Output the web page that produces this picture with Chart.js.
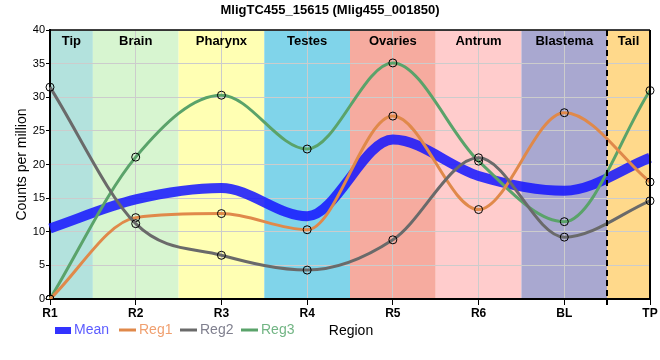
<!DOCTYPE html>
<html><head><meta charset="utf-8">
<script src="https://cdn.jsdelivr.net/npm/chart.js@4.4.0/dist/chart.umd.min.js"></script>
<style>html,body{margin:0;padding:0;background:#fff}#wrap{width:660px;height:360px}</style>
</head><body><div id="wrap"><canvas id="c" width="660" height="360"></canvas></div>
<script>
const categories = ['R1','R2','R3','R4','R5','R6','BL','TP'];
const meanValues = [10.5, 14.8, 16.5, 12.3, 23.7, 18.3, 16.1, 21.0];
const reg1Values = [0, 12.1, 12.7, 10.3, 27.2, 13.3, 27.7, 17.4];
const reg2Values = [31.5, 11.2, 6.5, 4.3, 8.8, 21.0, 9.2, 14.6];
const reg3Values = [0, 21.1, 30.3, 22.3, 35.1, 20.5, 11.5, 31.0];
const regionNames = ['Tip','Brain','Pharynx','Testes','Ovaries','Antrum','Blastema','Tail'];
const regionColors = ['#b3e2dd','#d7f5d0','#ffffb3','#80d4ea','#f6ab9f','#ffcccc','#a9a8d0','#ffd98b'];
const yTicks = [0,5,10,15,20,25,30,35,40];

const FONT = "'Liberation Sans', Arial, sans-serif";

const bandsPlugin = {
  id: 'bands',
  beforeDraw(chart) {
    const {ctx, chartArea: a, scales: {x}} = chart;
    ctx.save();
    for (let i = 0; i < regionNames.length; i++) {
      const l = Math.max(a.left, x.getPixelForValue(i - 0.5));
      const r = Math.min(a.right, x.getPixelForValue(i + 0.5));
      ctx.fillStyle = regionColors[i];
      ctx.fillRect(l, a.top, r - l, a.bottom - a.top);
    }
    ctx.restore();
  },
  afterDraw(chart) {
    const {ctx, chartArea: a, scales: {x}} = chart;
    ctx.save();
    ctx.font = "bold 13px " + FONT;
    ctx.fillStyle = '#000';
    ctx.textAlign = 'center';
    ctx.textBaseline = 'middle';
    for (let i = 0; i < regionNames.length; i++) {
      const l = Math.max(a.left, x.getPixelForValue(i - 0.5));
      const r = Math.min(a.right, x.getPixelForValue(i + 0.5));
      ctx.fillText(regionNames[i], (l + r) / 2, a.top + 11);
    }
    const dx = Math.round(x.getPixelForValue(categories.length - 1.5));
    ctx.strokeStyle = '#000';
    ctx.lineWidth = 2;
    ctx.setLineDash([6, 4]);
    ctx.beginPath();
    ctx.moveTo(dx, a.top);
    ctx.lineTo(dx, a.bottom + 6);
    ctx.stroke();
    ctx.setLineDash([]);
    ctx.lineWidth = 1.5;
    ctx.beginPath();
    ctx.moveTo(a.left, a.top);
    ctx.lineTo(a.right, a.top);
    ctx.stroke();
    ctx.lineWidth = 2;
    ctx.beginPath();
    ctx.moveTo(a.right, a.top);
    ctx.lineTo(a.right, a.bottom);
    ctx.stroke();
    // title
    ctx.font = "bold 13px " + FONT;
    ctx.textAlign = 'center';
    ctx.fillText('MligTC455_15615 (Mlig455_001850)', 330, 10);
    // axis titles
    ctx.font = "14px " + FONT;
    ctx.fillText('Region', 351, 331);
    ctx.save();
    ctx.translate(22, (a.top + a.bottom) / 2);
    ctx.rotate(-Math.PI / 2);
    ctx.fillText('Counts per million', 0, 0);
    ctx.restore();
    // legend
    const ly = 330;
    ctx.font = "14px " + FONT;
    ctx.textAlign = 'left';
    ctx.fillStyle = '#3333ff';
    ctx.fillRect(55, 327, 16, 7);
    ctx.fillStyle = '#5c5cff';
    ctx.fillText('Mean', 74, ly);
    const items = [
      ['Reg1', '#e0894a', '#f0a070', 119],
      ['Reg2', '#6a6a6a', '#80808f', 180],
      ['Reg3', '#5aa36a', '#72b584', 241]
    ];
    for (const [t, lc, tc, px] of items) {
      ctx.strokeStyle = lc;
      ctx.lineWidth = 3;
      ctx.beginPath();
      ctx.moveTo(px, ly);
      ctx.lineTo(px + 17, ly);
      ctx.stroke();
      ctx.fillStyle = tc;
      ctx.fillText(t, px + 20, ly);
    }
    ctx.restore();
  }
};

const ptStyle = {pointRadius: 4, pointBorderColor: '#000', pointBackgroundColor: 'rgba(0,0,0,0)', pointBorderWidth: 1, pointHoverRadius: 4};

new Chart(document.getElementById('c'), {
  type: 'line',
  data: {
    labels: categories,
    datasets: [
      {label: 'Reg2', data: reg2Values, borderColor: '#6a6a6a', borderWidth: 3, cubicInterpolationMode: 'monotone', ...ptStyle},
      {label: 'Reg1', data: reg1Values, borderColor: '#e0894a', borderWidth: 3, cubicInterpolationMode: 'monotone', ...ptStyle},
      {label: 'Reg3', data: reg3Values, borderColor: '#5aa36a', borderWidth: 3, cubicInterpolationMode: 'monotone', ...ptStyle},
      {label: 'Mean', data: meanValues, borderColor: 'rgba(20,20,255,0.85)', borderWidth: 10, cubicInterpolationMode: 'monotone', pointRadius: 0, pointHoverRadius: 0}
    ]
  },
  options: {
    responsive: false,
    animation: false,
    events: [],
    layout: {padding: {top: 30, left: 0, right: 10, bottom: 0}},
    plugins: {legend: {display: false}, title: {display: false}, tooltip: {enabled: false}},
    scales: {
      x: {
        type: 'category',
        offset: false,
        grid: {color: '#cccccc', lineWidth: 1, tickLength: 6, tickColor: '#000', drawTicks: true},
        border: {display: true, color: '#000', width: 2},
        ticks: {font: {family: FONT, size: 12, weight: 'bold'}, color: '#000', padding: 1, maxRotation: 0, autoSkip: false},
        afterFit(s) { s.height = 61; }
      },
      y: {
        min: 0, max: 40,
        afterBuildTicks(s) { s.ticks = yTicks.map(v => ({value: v})); },
        grid: {color: '#cccccc', lineWidth: 1, tickLength: 4, tickColor: '#000'},
        border: {display: true, color: '#000', width: 2},
        ticks: {font: {family: FONT, size: 11}, color: '#000', padding: 1},
        afterFit(s) { s.width = 50; }
      }
    }
  },
  plugins: [bandsPlugin]
});
</script></body></html>
